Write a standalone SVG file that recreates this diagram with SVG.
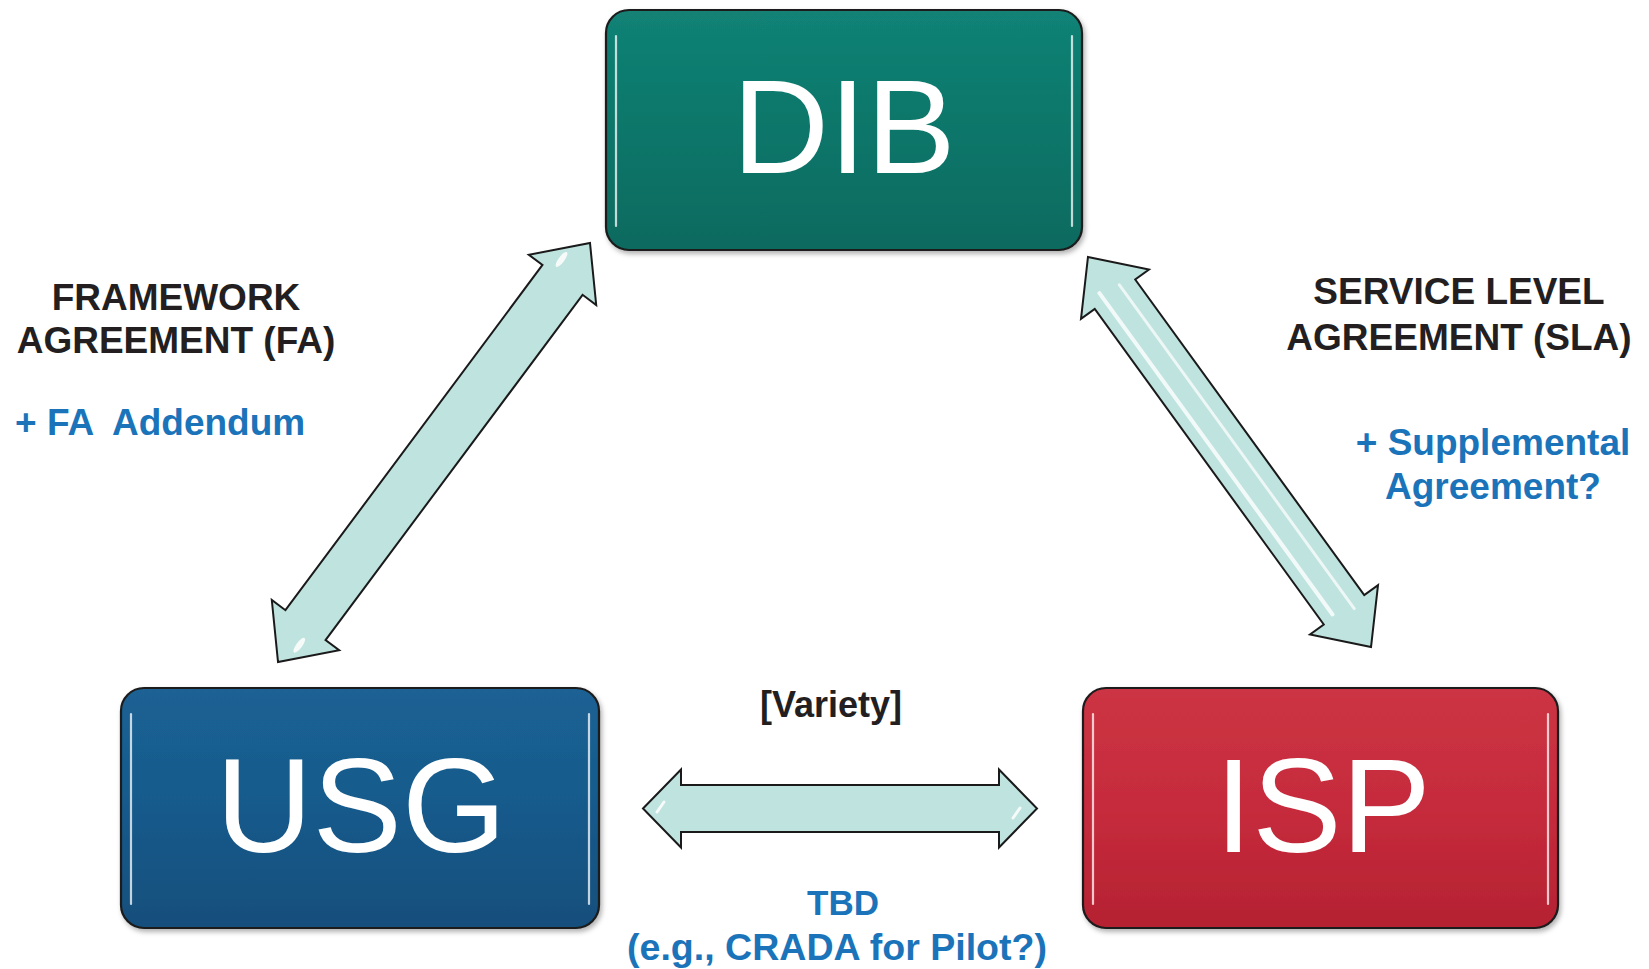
<svg xmlns="http://www.w3.org/2000/svg" width="1649" height="969" viewBox="0 0 1649 969">
<defs>
<style>
.box{stroke:#1b1b1b;stroke-width:2.2}
.boxtxt{font-family:"Liberation Sans",Arial,sans-serif;font-size:134px;fill:#ffffff;text-anchor:middle}
.lbl{font-family:"Liberation Sans",Arial,sans-serif;font-weight:bold;font-size:37px;fill:#231f20;text-anchor:middle}
.blue{font-family:"Liberation Sans",Arial,sans-serif;font-weight:bold;font-size:37px;fill:#1b74b9}
.mid{text-anchor:middle}
.gl{stroke:#ffffff;stroke-opacity:0.75;stroke-width:2.2;stroke-linecap:round;fill:none}
.arrow{fill:#bfe3df;stroke:#1a1a1a;stroke-width:2;stroke-linejoin:miter}
.streak{stroke:#ffffff;stroke-linecap:round;fill:none}
</style>
<linearGradient id="gTeal" x1="0" y1="0" x2="0" y2="1">
<stop offset="0" stop-color="#128275"/><stop offset="0.5" stop-color="#0c766a"/><stop offset="1" stop-color="#0a6a5f"/>
</linearGradient>
<linearGradient id="gBlue" x1="0" y1="0" x2="0" y2="1">
<stop offset="0" stop-color="#1b6294"/><stop offset="0.5" stop-color="#175a8b"/><stop offset="1" stop-color="#124f7c"/>
</linearGradient>
<linearGradient id="gRed" x1="0" y1="0" x2="0" y2="1">
<stop offset="0" stop-color="#cc3444"/><stop offset="0.5" stop-color="#c62b3c"/><stop offset="1" stop-color="#b52232"/>
</linearGradient>
<filter id="sh" x="-5%" y="-5%" width="112%" height="115%">
<feDropShadow dx="2" dy="3" stdDeviation="2.5" flood-color="#000000" flood-opacity="0.3"/>
</filter>
</defs>
<rect width="1649" height="969" fill="#ffffff"/>

<g id="connectors">
<g id="arrow-dib-usg" transform="translate(434,452.5) rotate(-53.33)">
<polygon class="arrow" points="-261.2,0 -215.2,-42 -215.2,-25 215.2,-25 215.2,-42 261.2,0 215.2,42 215.2,25 -215.2,25 -215.2,42"/>
<ellipse cx="231" cy="-13" rx="9" ry="3" fill="#ffffff" opacity="0.85"/>
<ellipse cx="-235" cy="7" rx="9" ry="3" fill="#ffffff" opacity="0.85"/>
</g>
<g id="arrow-dib-isp" transform="translate(1229.5,452) rotate(54.04)">
<polygon class="arrow" points="-241,0 -195,-42 -195,-25 195,-25 195,-42 241,0 195,42 195,25 -195,25 -195,42"/>
<line class="streak" x1="-205" y1="12" x2="192" y2="12" stroke-width="4" stroke-opacity="0.8"/>
<line class="streak" x1="-200" y1="-9" x2="200" y2="-9" stroke-width="3" stroke-opacity="0.7"/>
</g>
<g id="arrow-usg-isp">
<polygon class="arrow" points="643,808.5 681,769.5 681,785 999,785 999,769.5 1037,808.5 999,847.5 999,832 681,832 681,847.5"/>
<line class="streak" x1="657" y1="812" x2="664" y2="802" stroke-width="3" stroke-opacity="0.85"/>
<line class="streak" x1="1013" y1="818" x2="1020" y2="808" stroke-width="3" stroke-opacity="0.85"/>
</g>
</g>

<g id="node-dib">
<rect class="box" x="606" y="10" width="476" height="240" rx="23" ry="23" fill="url(#gTeal)" filter="url(#sh)"/>
<line class="gl" x1="616" y1="36" x2="616" y2="226"/>
<line class="gl" x1="1072" y1="36" x2="1072" y2="226"/>
<text class="boxtxt" x="844" y="173">DIB</text>
</g>

<g id="node-usg">
<rect class="box" x="121" y="688" width="478" height="240" rx="23" ry="23" fill="url(#gBlue)" filter="url(#sh)"/>
<line class="gl" x1="131" y1="714" x2="131" y2="904"/>
<line class="gl" x1="589" y1="714" x2="589" y2="904"/>
<text class="boxtxt" x="361" y="852">USG</text>
</g>

<g id="node-isp">
<rect class="box" x="1083" y="688" width="475" height="240" rx="23" ry="23" fill="url(#gRed)" filter="url(#sh)"/>
<line class="gl" x1="1093" y1="714" x2="1093" y2="904"/>
<line class="gl" x1="1548" y1="714" x2="1548" y2="904"/>
<text class="boxtxt" x="1323" y="852">ISP</text>
</g>

<g id="label-fa">
<text class="lbl" x="176" y="310">FRAMEWORK</text>
<text class="lbl" x="176" y="353">AGREEMENT (FA)</text>
<text class="blue" y="435"><tspan x="15">+ FA</tspan><tspan x="112">Addendum</tspan></text>
</g>

<g id="label-sla">
<text class="lbl" x="1459" y="304">SERVICE LEVEL</text>
<text class="lbl" x="1459" y="350">AGREEMENT (SLA)</text>
<text class="blue mid" x="1493" y="455">+ Supplemental</text>
<text class="blue mid" x="1493" y="499">Agreement?</text>
</g>

<g id="label-variety">
<text class="lbl" x="831" y="717" style="font-size:36px">[Variety]</text>
<text class="blue mid" x="843" y="915" style="font-size:35px">TBD</text>
<text class="blue mid" x="837" y="960" textLength="420" lengthAdjust="spacingAndGlyphs">(e.g., CRADA for Pilot?)</text>
</g>
</svg>
